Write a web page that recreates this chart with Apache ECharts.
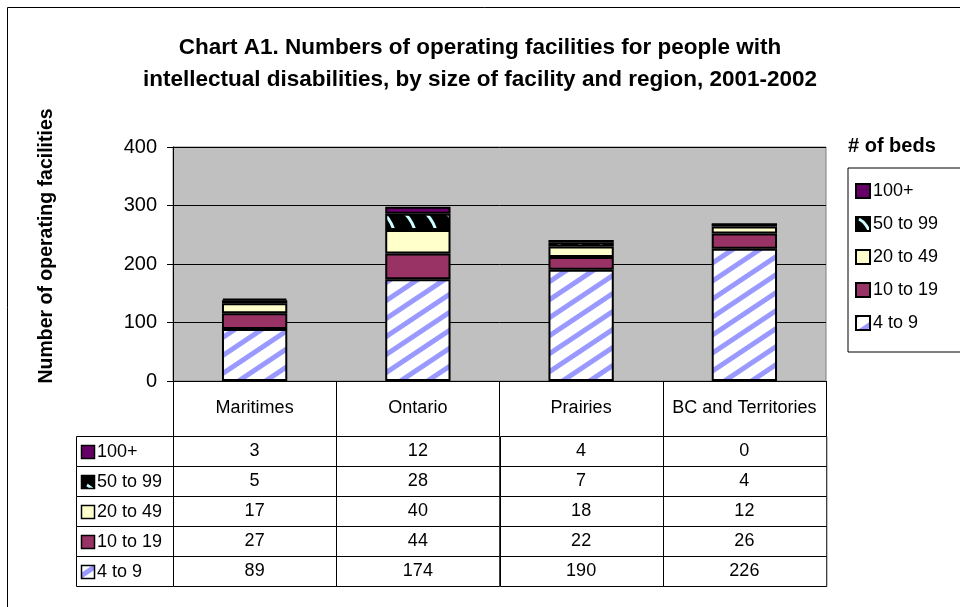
<!DOCTYPE html>
<html>
<head>
<meta charset="utf-8">
<script src="https://cdn.jsdelivr.net/npm/echarts@6/dist/echarts.min.js"></script>
<style>
  html, body { margin: 0; padding: 0; background: #fff; }
  #main { width: 960px; height: 607px; }
</style>
</head>
<body>
<div id="main"></div>
<script>
// data
var regions = ['Maritimes', 'Ontario', 'Prairies', 'BC and Territories'];
var sizeNames = ['4 to 9', '10 to 19', '20 to 49', '50 to 99', '100+'];
var beds4to9 = [89, 174, 190, 226];
var beds10to19 = [27, 44, 22, 26];
var beds20to49 = [17, 40, 18, 12];
var beds50to99 = [5, 28, 7, 4];
var beds100plus = [3, 12, 4, 0];
var yMin = 0, yMax = 400, yStep = 100;

var FONT = '"Liberation Sans", Arial, sans-serif';

// fill patterns
function stripes() {
  var c = document.createElement('canvas');
  c.width = 27; c.height = 18;
  var g = c.getContext('2d');
  g.fillStyle = '#ffffff';
  g.fillRect(0, 0, 27, 18);
  g.strokeStyle = '#9999ff';
  g.lineWidth = 5;
  for (var k = -1; k <= 1; k++) {
    g.beginPath();
    g.moveTo(k * 27 - 27, 36);
    g.lineTo(k * 27 + 54, -18);
    g.stroke();
  }
  return c;
}
function hatch() {
  var c = document.createElement('canvas');
  c.width = 21; c.height = 21;
  var g = c.getContext('2d');
  g.fillStyle = '#000000';
  g.fillRect(0, 0, 21, 21);
  g.strokeStyle = '#ccffff';
  g.lineWidth = 3;
  g.beginPath();
  g.moveTo(3, 2);
  g.quadraticCurveTo(11, 6, 16, 20);
  g.stroke();
  return c;
}
var fills = [
  { image: stripes(), repeat: 'repeat' },
  '#993366',
  '#ffffcc',
  { image: hatch(), repeat: 'repeat' },
  '#660066'
];
var seriesValues = [beds4to9, beds10to19, beds20to49, beds50to99, beds100plus];

// table rows, top to bottom
var rowOrder = [4, 3, 2, 1, 0];
var tableCells = [];
rowOrder.forEach(function (s, r) {
  seriesValues[s].forEach(function (v, c) {
    tableCells.push([c, r, v]);
  });
});
var rowLabelData = rowOrder.map(function (s, r) { return [0, r]; });

var chart = echarts.init(document.getElementById('main'));

var barSeries = sizeNames.map(function (name, i) {
  return {
    name: name,
    type: 'bar',
    stack: 'beds',
    barWidth: '40%',
    xAxisIndex: 0,
    yAxisIndex: 0,
    itemStyle: { color: fills[i], borderColor: '#000', borderWidth: 2 },
    emphasis: { disabled: true },
    data: seriesValues[i]
  };
});

var option = {
  animation: false,
  textStyle: { fontFamily: FONT },
  title: [
    {
      text: 'Chart A1. Numbers of operating facilities for people with\nintellectual disabilities, by size of facility and region, 2001-2002',
      left: 'center',
      top: 27,
      textStyle: { fontSize: 22.5, fontWeight: 'bold', lineHeight: 32, color: '#000', fontFamily: FONT }
    },
    {
      text: '# of beds',
      left: 843,
      top: 131,
      textStyle: { fontSize: 20, fontWeight: 'bold', color: '#000', fontFamily: FONT }
    }
  ],
  legend: {
    data: ['100+', '50 to 99', '20 to 49', '10 to 19', '4 to 9'],
    orient: 'vertical',
    left: 848,
    top: 168,
    padding: [14, 40, 20, 7],
    borderColor: '#000',
    borderWidth: 1,
    itemWidth: 14,
    itemHeight: 14,
    itemGap: 15,
    icon: 'rect',
    selectedMode: false,
    textStyle: { fontSize: 18, color: '#000', fontFamily: FONT, padding: [0, 0, 0, -2] }
  },
  grid: [
    { left: 173, top: 147, width: 653, height: 234, show: true, backgroundColor: '#c0c0c0', borderColor: '#808080', borderWidth: 1 },
    { left: 173, top: 436, width: 653, height: 150 }
  ],
  xAxis: [
    {
      type: 'category', gridIndex: 0, data: regions,
      axisLine: { lineStyle: { color: '#000', width: 1 } },
      axisTick: { show: true, length: 55, alignWithLabel: false, interval: 0, lineStyle: { color: '#000' } },
      axisLabel: { interval: 0, margin: 18, fontSize: 18, color: '#000', fontFamily: FONT }
    },
    { type: 'category', gridIndex: 1, data: regions, show: false }
  ],
  yAxis: [
    {
      type: 'value', gridIndex: 0, min: yMin, max: yMax, interval: yStep,
      axisLine: { show: true, lineStyle: { color: '#000', width: 1 } },
      axisTick: { show: true, length: 6, lineStyle: { color: '#000' } },
      splitLine: { lineStyle: { color: '#000', width: 1 } },
      axisLabel: { margin: 16, fontSize: 20, color: '#000', fontFamily: FONT }
    },
    { type: 'category', gridIndex: 1, inverse: true, data: rowOrder.map(function (s) { return sizeNames[s]; }), show: false }
  ],
  graphic: [
    { type: 'rect', shape: { x: 7.5, y: 7.5, width: 1000, height: 700 }, style: { fill: 'none', stroke: '#000', lineWidth: 1 }, silent: true },
    {
      type: 'text', x: 47, y: 246, rotation: Math.PI / 2, silent: true,
      style: { text: 'Number of operating facilities', fontSize: 19.5, fontWeight: 'bold', fontFamily: FONT, fill: '#000', align: 'center', verticalAlign: 'middle' }
    }
  ],
  series: barSeries.concat([
    {
      type: 'custom',
      name: 'table',
      xAxisIndex: 1,
      yAxisIndex: 1,
      silent: true,
      data: tableCells,
      renderItem: function (params, api) {
        var p = api.coord([api.value(0), api.value(1)]);
        var s = api.size([1, 1]);
        return {
          type: 'group',
          children: [
            { type: 'rect', shape: { x: Math.round(p[0] - s[0] / 2) + 0.5, y: Math.round(p[1] - s[1] / 2) + 0.5, width: s[0], height: s[1] },
              style: { fill: '#fff', stroke: '#000', lineWidth: 1 } },
            { type: 'text', x: p[0], y: p[1],
              style: { text: String(api.value(2)), fontSize: 18, fontFamily: FONT, fill: '#000', align: 'center', verticalAlign: 'middle' } }
          ]
        };
      }
    },
    {
      type: 'custom',
      name: 'rowLabels',
      xAxisIndex: 1,
      yAxisIndex: 1,
      silent: true,
      data: rowLabelData,
      renderItem: function (params, api) {
        var p = api.coord([0, api.value(1)]);
        var s = api.size([1, 1]);
        var x1 = params.coordSys.x;
        var x0 = x1 - 97;
        var y0 = Math.round(p[1] - s[1] / 2) + 0.5;
        var si = rowOrder[params.dataIndex];
        return {
          type: 'group',
          children: [
            { type: 'rect', shape: { x: x0 + 0.5, y: y0, width: 97, height: s[1] },
              style: { fill: '#fff', stroke: '#000', lineWidth: 1 } },
            { type: 'rect', shape: { x: x0 + 5.5, y: Math.round(p[1] - 6) + 0.5, width: 13, height: 13 },
              style: { fill: fills[si], stroke: '#000', lineWidth: 1.5 } },
            { type: 'text', x: x0 + 21, y: p[1] + 1,
              style: { text: sizeNames[si], fontSize: 18, fontFamily: FONT, fill: '#000', align: 'left', verticalAlign: 'middle' } }
          ]
        };
      }
    }
  ])
};

chart.setOption(option);
</script>
</body>
</html>
